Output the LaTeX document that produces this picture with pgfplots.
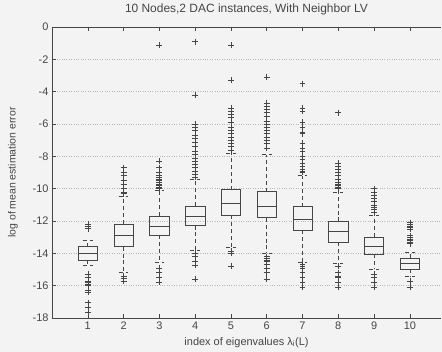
\documentclass[border=0pt]{standalone}
\usepackage{fontspec}
\setmainfont{Liberation Sans}
\usepackage{pgfplots}
\pgfplotsset{compat=1.18}
\usepgfplotslibrary{statistics}
\definecolor{bg}{RGB}{243,243,243}
\definecolor{ink}{RGB}{70,70,70}
\begin{document}
\begin{tikzpicture}
\path[fill=bg,use as bounding box] (-52bp,-34bp) rectangle (390bp,318bp);
\begin{axis}[
  at={(0,0)}, anchor=south west,
  scale only axis, width=389bp, height=291bp,
  xmin=0, xmax=10.87, ymin=-18, ymax=0,
  axis x line*=box, axis y line*=left,
  axis line style={-, ink, line width=0.6pt},
  xtick={1,...,10}, ytick={-18,-16,...,0},
  tick align=inside, major tick length=4bp, tick style={ink, line width=0.5pt},
  ymajorgrids, grid style={dotted, black!28, line width=0.6pt},
  tick label style={font=\fontsize{11}{13}\selectfont, text=ink},
  /pgf/number format/assume math mode=true,
  title={10 Nodes,2 DAC instances, With Neighbor LV},
  title style={font=\fontsize{12}{14}\selectfont, text=ink, anchor=base, at={(axis description cs:0.5,1)}, yshift=9bp},
  xlabel={index of eigenvalues λ\textsubscript{i}(L)},
  xlabel style={font=\fontsize{11}{13}\selectfont, text=ink, anchor=base, at={(axis description cs:0.5,0)}, yshift=-27bp},
  ylabel={log of mean estimation error},
  ylabel style={font=\fontsize{10.5}{13}\selectfont, text=ink, anchor=center, at={(axis description cs:0,0.5)}, yshift=39bp},
  boxplot/draw direction=y,
  boxplot/box extend=0.54,
  boxplot/whisker extend=0.27,
  boxplot/every whisker/.style={dashed, dash pattern=on 4pt off 3pt},
  boxplot/every box/.style={solid},
  boxplot/every median/.style={solid},
  every boxplot/.style={ink, line width=0.6pt, mark=+, mark size=3pt, mark options={solid, ink, line width=0.5pt}},
]
\addplot[boxplot prepared={draw position=1, lower whisker=-14.74, lower quartile=-14.41, median=-13.99, upper quartile=-13.58, upper whisker=-13.19}]
  coordinates {(0,-12.2) (0,-12.35) (0,-12.47) (0,-15.3) (0,-15.5) (0,-15.7) (0,-15.8) (0,-15.9) (0,-16.0) (0,-16.3) (0,-16.4) (0,-17.05) (0,-17.36) (0,-17.67)};
\addplot[boxplot prepared={draw position=2, lower whisker=-15.2, lower quartile=-13.58, median=-12.86, upper quartile=-12.2, upper whisker=-10.5}]
  coordinates {(0,-8.7) (0,-9.0) (0,-9.2) (0,-9.5) (0,-9.7) (0,-10.0) (0,-10.2) (0,-10.3) (0,-15.4) (0,-15.55) (0,-15.7)};
\addplot[boxplot prepared={draw position=3, lower whisker=-14.55, lower quartile=-12.86, median=-12.3, upper quartile=-11.68, upper whisker=-10.1}]
  coordinates {(0,-1.1) (0,-8.3) (0,-8.7) (0,-9.0) (0,-9.2) (0,-9.3) (0,-9.4) (0,-9.5) (0,-9.6) (0,-9.7) (0,-9.8) (0,-9.9) (0,-10.0) (0,-14.9) (0,-15.2) (0,-15.5) (0,-15.8)};
\addplot[boxplot prepared={draw position=4, lower whisker=-13.8, lower quartile=-12.28, median=-11.7, upper quartile=-11.06, upper whisker=-9.45}]
  coordinates {(0,-0.9) (0,-4.2) (0,-6.0) (0,-6.2) (0,-6.4) (0,-6.7) (0,-6.9) (0,-7.1) (0,-7.4) (0,-7.7) (0,-7.9) (0,-8.1) (0,-8.3) (0,-8.5) (0,-8.7) (0,-8.9) (0,-9.1) (0,-9.3) (0,-14.0) (0,-14.2) (0,-14.5) (0,-14.75) (0,-15.6)};
\addplot[boxplot prepared={draw position=5, lower whisker=-13.6, lower quartile=-11.64, median=-10.9, upper quartile=-10.07, upper whisker=-7.8}]
  coordinates {(0,-1.1) (0,-3.3) (0,-5.0) (0,-5.2) (0,-5.4) (0,-5.6) (0,-5.9) (0,-6.2) (0,-6.4) (0,-6.6) (0,-6.8) (0,-7.0) (0,-7.2) (0,-7.4) (0,-7.6) (0,-13.85) (0,-14.0) (0,-14.78)};
\addplot[boxplot prepared={draw position=6, lower whisker=-14.0, lower quartile=-11.79, median=-11.06, upper quartile=-10.18, upper whisker=-7.9}]
  coordinates {(0,-3.1) (0,-4.7) (0,-4.9) (0,-5.1) (0,-5.3) (0,-5.5) (0,-5.8) (0,-6.0) (0,-6.2) (0,-6.4) (0,-6.6) (0,-6.8) (0,-7.0) (0,-7.2) (0,-7.5) (0,-14.2) (0,-14.3) (0,-14.4) (0,-14.5) (0,-14.7) (0,-14.9) (0,-15.2) (0,-15.6)};
\addplot[boxplot prepared={draw position=7, lower whisker=-14.55, lower quartile=-12.57, median=-11.89, upper quartile=-11.12, upper whisker=-9.2}]
  coordinates {(0,-3.5) (0,-5.0) (0,-5.2) (0,-5.9) (0,-6.2) (0,-6.5) (0,-6.6) (0,-7.2) (0,-7.5) (0,-7.7) (0,-8.0) (0,-8.2) (0,-8.4) (0,-8.6) (0,-8.8) (0,-8.9) (0,-9.0) (0,-14.7) (0,-14.8) (0,-14.9) (0,-15.2) (0,-15.5) (0,-15.8) (0,-16.1)};
\addplot[boxplot prepared={draw position=8, lower whisker=-14.6, lower quartile=-13.33, median=-12.61, upper quartile=-12.03, upper whisker=-10.2}]
  coordinates {(0,-5.3) (0,-8.4) (0,-8.6) (0,-8.8) (0,-9.0) (0,-9.2) (0,-9.4) (0,-9.6) (0,-9.7) (0,-9.8) (0,-9.9) (0,-10.0) (0,-14.8) (0,-15.2) (0,-15.4) (0,-15.5) (0,-15.8) (0,-16.1)};
\addplot[boxplot prepared={draw position=9, lower whisker=-15.0, lower quartile=-14.06, median=-13.54, upper quartile=-12.98, upper whisker=-11.65}]
  coordinates {(0,-10.0) (0,-10.2) (0,-10.4) (0,-10.6) (0,-10.8) (0,-11.0) (0,-11.15) (0,-11.25) (0,-11.3) (0,-11.45) (0,-15.3) (0,-15.5) (0,-15.8) (0,-16.1)};
\addplot[boxplot prepared={draw position=10, lower whisker=-15.45, lower quartile=-14.98, median=-14.61, upper quartile=-14.3, upper whisker=-13.95}]
  coordinates {(0,-12.1) (0,-12.2) (0,-12.3) (0,-12.4) (0,-12.5) (0,-12.9) (0,-13.0) (0,-13.1) (0,-13.2) (0,-13.3) (0,-13.4) (0,-15.7) (0,-16.1)};
\end{axis}
\end{tikzpicture}
\end{document}
